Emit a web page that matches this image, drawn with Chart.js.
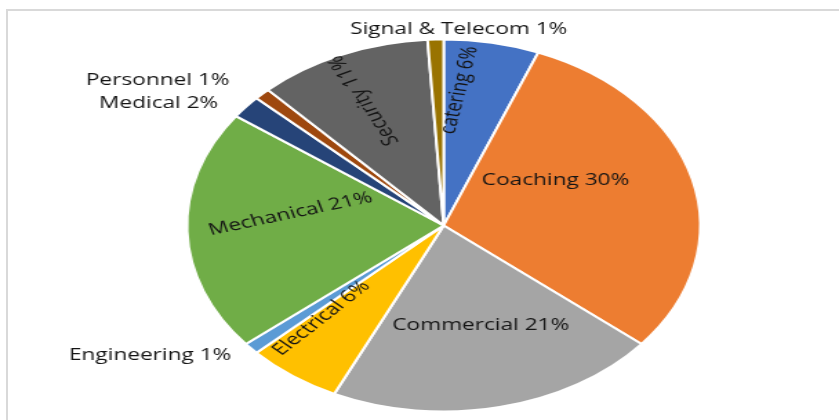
<!DOCTYPE html>
<html>
<head>
<meta charset="utf-8">
<title>Department share</title>
<script src="https://cdn.jsdelivr.net/npm/chart.js@4"></script>
<style>
  html, body { margin: 0; padding: 0; background: #fff; overflow: hidden; }
  body { width: 839px; height: 420px; position: relative; }
  #frame {
    position: absolute; left: 6px; top: 9px; width: 900px; height: 500px;
    border-top: 2px solid #d9d9d9; border-left: 2px solid #d9d9d9;
  }
  /* the chart is drawn narrow and widened, so the pie comes out oval */
  #wrap {
    position: absolute; left: 0; top: 0; width: 608px; height: 420px;
    transform: scaleX(1.38); transform-origin: 0 0;
  }
</style>
</head>
<body>
<div id="frame"></div>
<div id="wrap"><canvas id="deptChart"></canvas></div>

<script>
// Share by department (%)
const departments = ["catering", "Coaching", "Commercial", "Electrical", "Engineering",
  "Mechanical", "Medical", "Personnel", "Security", "Signal & Telecom"];
const shares = [6, 30, 21, 6, 1, 21, 2, 1, 11, 1];
const sliceColors = ["#4472C4", "#ED7D31", "#A5A5A5", "#FFC000", "#5B9BD5",
  "#70AD47", "#264478", "#9E480E", "#636363", "#997300"];

// Where each label sits: nudge from the slice middle (deg), distance as part of radius,
// text rotation (deg, 0 = horizontal)
const labelPlace = [
  { nudge: -6,   dist: 0.73, rot: -79 },
  { nudge: -15,  dist: 0.50, rot: 0 },
  { nudge: -2.5, dist: 0.555, rot: 0 },
  { nudge: 7.7,  dist: 0.69, rot: -47 },
  { nudge: 10,   dist: 1.34, rot: 0 },
  { nudge: 7.8,  dist: 0.60, rot: -16 },
  { nudge: -9,   dist: 1.29, rot: 0 },
  { nudge: -10,  dist: 1.36, rot: 0 },
  { nudge: -1.4, dist: 0.74, rot: -116 },
  { nudge: 5,    dist: 1.055, rot: 0 }
];

const sliceLabels = {
  id: "sliceLabels",
  afterDatasetsDraw(chart) {
    const ctx = chart.ctx;
    const arcs = chart.getDatasetMeta(0).data;
    ctx.save();
    ctx.font = "16.4px 'Open Sans'";
    ctx.fillStyle = "#141414";
    ctx.textAlign = "center";
    ctx.textBaseline = "middle";
    arcs.forEach((arc, i) => {
      const p = arc.getProps(["x", "y", "startAngle", "endAngle", "outerRadius"], true);
      const place = labelPlace[i];
      const a = (p.startAngle + p.endAngle) / 2 + place.nudge * Math.PI / 180;
      const r = p.outerRadius * place.dist;
      ctx.save();
      ctx.translate(p.x + Math.cos(a) * r, p.y + Math.sin(a) * r);
      ctx.rotate(place.rot * Math.PI / 180);
      ctx.fillText(departments[i] + " " + shares[i] + "%", 0, 0);
      ctx.restore();
    });
    ctx.restore();
  }
};

new Chart(document.getElementById("deptChart"), {
  type: "pie",
  data: {
    labels: departments,
    datasets: [{
      data: shares,
      backgroundColor: sliceColors,
      borderColor: "#ffffff",
      borderWidth: 2,
      radius: 186
    }]
  },
  options: {
    responsive: true,
    maintainAspectRatio: false,
    animation: false,
    events: [],
    layout: { padding: { left: 35, top: 31, right: 0, bottom: 0 } },
    plugins: {
      legend: { display: false },
      tooltip: { enabled: false }
    }
  },
  plugins: [sliceLabels]
});
</script>
</body>
</html>
